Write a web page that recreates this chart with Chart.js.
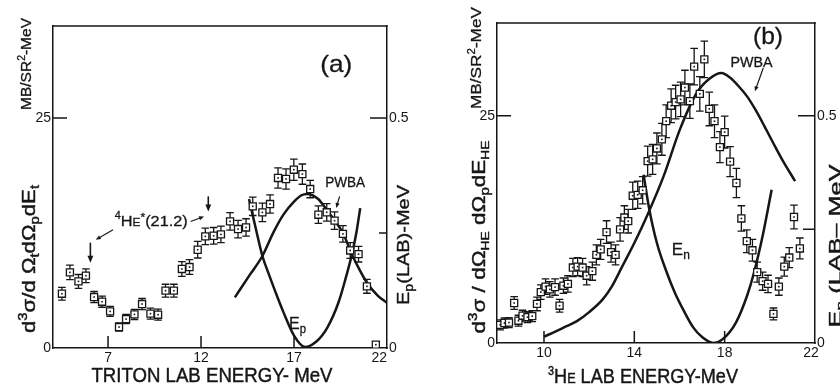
<!DOCTYPE html>
<html><head><meta charset="utf-8">
<script src="https://cdn.jsdelivr.net/npm/chart.js@4.4.1/dist/chart.umd.min.js"></script>
<style>
html,body{margin:0;padding:0;background:#fff;}
#wrap{position:relative;width:840px;height:388px;overflow:hidden;background:#fff;}
.pane{position:absolute;top:0;width:420px;height:388px;}
canvas{display:block;}
</style></head><body>
<div id="wrap">
<div class="pane" style="left:0"><canvas id="ca" width="420" height="388" style="width:420px;height:388px"></canvas></div>
<div class="pane" style="left:420px"><canvas id="cb" width="420" height="388" style="width:420px;height:388px"></canvas></div>
</div>
<script>
// ---------- Panel (a) data ----------
const xTicksA = [7, 12, 17, 22];
const yTicksA = [0, 25];
const y1TicksA = [0, 0.5];
const energyA = [4.52,4.95,5.41,5.81,6.25,6.68,7.11,7.59,7.97,8.42,8.83,9.28,9.69,10.09,10.54,10.97,11.38,11.82,12.23,12.68,13.07,13.56,13.99,14.42,14.78,15.3,15.71,16.14,16.57,16.99,17.45,17.87,18.31,18.76,19.18,19.63,20.02,20.47,20.92,21.4];
const sigmaA = [5.9,8.22,7.24,7.86,5.54,5.03,3.98,2.28,3.15,3.65,4.78,3.73,3.62,6.23,6.23,8.59,8.8,10.68,12.13,12.2,12.35,13.76,12.93,13.1,15.4,14.74,15.65,18.48,18.37,19.38,18.9,17.28,14.49,14.75,13.84,12.4,10.6,10.2,6.7,0.36];
const errA = [0.7,0.78,0.75,0.75,0.6,0.6,0.55,0.45,0.5,0.55,0.6,0.6,0.6,0.7,0.7,0.8,0.8,0.9,0.9,0.9,0.9,0.95,0.95,0.95,1.0,1.0,1.0,1.1,1.1,1.15,1.1,0.95,0.95,0.95,0.95,0.9,0.85,0.85,0.75,0];
const pwbaAx = [13.82,14.63,15.3,15.9,16.43,17.0,17.4,17.69,18.3,18.76,19.18,19.63,20.11,20.5,20.92,21.5,22.0];
const pwbaAy = [5.5,7.97,10.0,12.6,14.5,15.9,16.6,16.75,16.2,15.0,13.9,12.5,10.2,8.6,7.1,5.7,4.9];
const epAx = [14.58,15.0,15.3,15.65,16.0,16.43,17.0,17.6,18.2,18.8,19.4,19.8,20.11,20.35,20.56];
const epAy = [0.324,0.25,0.2,0.16,0.122,0.078,0.027,0.002,0.014,0.045,0.1,0.155,0.203,0.25,0.304];

// ---------- Panel (b) data ----------
const xTicksB = [10, 14, 18, 22];
const yTicksB = [0, 25];
const y1TicksB = [0, 0.5];
const energyB = [8.06,8.25,8.45,8.68,8.87,9.05,9.27,9.48,9.69,9.86,10.07,10.26,10.49,10.69,10.86,11.06,11.28,11.49,11.71,11.89,12.14,12.32,12.51,12.77,12.97,13.17,13.37,13.56,13.73,13.93,14.15,14.37,14.59,14.81,15.0,15.22,15.41,15.63,15.83,16.05,16.24,16.46,16.65,16.9,17.1,17.32,17.55,17.79,18.0,18.24,18.52,18.74,18.98,19.23,19.44,19.68,19.92,20.16,20.4,20.64,20.86,21.07,21.33];
const sigmaB = [2.0,2.2,2.25,4.4,2.45,3.0,2.85,2.95,4.3,5.6,6.2,5.9,6.15,4.1,6.3,6.5,8.3,8.4,8.3,7.4,7.9,9.7,10.3,12.2,10.0,9.7,12.5,13.8,13.4,16.2,16.3,16.8,20.0,20.2,21.4,22.4,24.4,26.1,26.5,26.8,28.1,26.6,30.4,27.4,31.2,25.75,24.4,21.55,23.2,19.95,17.6,13.7,11.2,10.2,7.8,6.8,6.5,3.2,6.2,8.4,9.4,13.86,10.4];
const errB = [0.55,0.55,0.55,0.7,0.6,0.6,0.6,0.6,0.75,0.8,0.85,0.85,0.9,0.7,0.85,0.9,1.0,1.0,1.0,1.0,1.0,1.1,1.1,1.25,1.1,1.1,1.3,1.3,1.3,1.5,1.5,1.5,1.65,1.65,1.7,1.75,1.8,1.85,1.85,1.9,1.9,1.9,2.0,1.9,2.0,1.85,1.8,1.7,1.75,1.65,1.6,1.4,1.25,1.2,1.1,1.0,0.95,0.65,0.95,1.05,1.1,1.3,1.15];
const pwbaBx = [10.0,10.5,11.0,11.46,12.0,12.6,13.0,13.46,14.0,14.6,15.29,16.02,16.76,17.34,17.86,18.23,18.6,19.0,19.4,19.77,20.15,20.54,21.12];
const pwbaBy = [0.7,1.25,1.85,2.4,3.4,4.8,6.2,8.4,11.0,14.2,18.3,23.5,27.5,29.1,29.7,29.2,28.3,27.1,25.5,23.8,22.0,20.2,17.8];
const enBx = [14.41,14.66,15.0,15.4,15.8,16.2,16.6,17.0,17.5,17.9,18.5,19.0,19.3,19.7,20.08];
const enBy = [0.37,0.295,0.22,0.16,0.11,0.07,0.035,0.013,0.0,0.008,0.045,0.105,0.155,0.24,0.337];

// ---------- drawing helpers ----------
const INK = '#161616';
const FONT = '"Liberation Sans", Arial, sans-serif';
const zip = (xs, ys) => xs.map((x, i) => ({x: x, y: ys[i]}));

function rich(ctx, x, y, parts, o) {
  o = o || {};
  let w = 0; const ws = [];
  parts.forEach(p => { ctx.font = p.s + 'px ' + FONT; const m = ctx.measureText(p.t).width; ws.push(m); w += m; });
  const sx = o.len ? o.len / w : 1;
  ctx.save();
  ctx.translate(x, y);
  if (o.rot) ctx.rotate(o.rot);
  ctx.scale(sx, 1);
  let cx = o.align === 'left' ? 0 : (o.align === 'right' ? -w : -w / 2);
  ctx.fillStyle = INK; ctx.strokeStyle = INK; ctx.lineWidth = o.bold === undefined ? 0.3 : o.bold;
  ctx.lineJoin = 'round';
  ctx.textAlign = 'left'; ctx.textBaseline = 'alphabetic';
  parts.forEach((p, i) => {
    ctx.font = p.s + 'px ' + FONT;
    ctx.fillText(p.t, cx, p.dy || 0);
    if (ctx.lineWidth > 0) ctx.strokeText(p.t, cx, p.dy || 0);
    cx += ws[i];
  });
  ctx.restore();
}
function arrow(ctx, x1, y1, x2, y2, h, lw) {
  ctx.save(); ctx.strokeStyle = INK; ctx.fillStyle = INK; ctx.lineWidth = lw || 1.4;
  const a = Math.atan2(y2 - y1, x2 - x1), c = Math.cos(a), s = Math.sin(a);
  ctx.beginPath(); ctx.moveTo(x1, y1); ctx.lineTo(x2 - c * h * 0.7, y2 - s * h * 0.7); ctx.stroke();
  ctx.beginPath(); ctx.moveTo(x2, y2);
  ctx.lineTo(x2 - h * c + h * 0.42 * s, y2 - h * s - h * 0.42 * c);
  ctx.lineTo(x2 - h * c - h * 0.42 * s, y2 - h * s + h * 0.42 * c);
  ctx.closePath(); ctx.fill(); ctx.restore();
}

function figPlugin(spec) {
  return {
    id: 'fig' + spec.id,
    beforeDatasetsDraw(chart) {
      const ctx = chart.ctx, xs = chart.scales.x, ys = chart.scales.y;
      ctx.save(); ctx.strokeStyle = INK; ctx.lineWidth = 1.3;
      ctx.beginPath();
      for (let i = 0; i < spec.ex.length; i++) {
        if (!spec.ee[i]) continue;
        const px = xs.getPixelForValue(spec.ex[i]);
        const t = ys.getPixelForValue(spec.ey[i] + spec.ee[i]);
        const b = ys.getPixelForValue(spec.ey[i] - spec.ee[i]);
        ctx.moveTo(px, t); ctx.lineTo(px, b);
        ctx.moveTo(px - 3.8, t); ctx.lineTo(px + 3.8, t);
        ctx.moveTo(px - 3.8, b); ctx.lineTo(px + 3.8, b);
      }
      ctx.stroke(); ctx.restore();
    },
    afterDatasetsDraw(chart) {
      const ctx = chart.ctx; const meta = chart.getDatasetMeta(0);
      ctx.save(); ctx.fillStyle = INK;
      meta.data.forEach(p => ctx.fillRect(p.x - 0.8, p.y - 0.8, 1.6, 1.6));
      ctx.restore();
    },
    afterDraw(chart) {
      const ctx = chart.ctx, ca = chart.chartArea;
      const xs = chart.scales.x, ys = chart.scales.y, y1 = chart.scales.y1;
      ctx.save();
      ctx.strokeStyle = INK; ctx.lineWidth = 1.5;
      ctx.beginPath();
      ctx.moveTo(ca.left - 0.75, ca.top); ctx.lineTo(ca.right + 0.75, ca.top);
      spec.xInner.forEach(v => { const px = xs.getPixelForValue(v); ctx.moveTo(px, ca.bottom); ctx.lineTo(px, ca.bottom - 12); });
      spec.yInner.forEach(v => { const py = ys.getPixelForValue(v); ctx.moveTo(ca.left, py); ctx.lineTo(ca.left + 14, py); });
      spec.y1Inner.forEach(d => { const py = y1.getPixelForValue(d[0]); ctx.moveTo(ca.right, py); ctx.lineTo(ca.right - d[1], py); });
      ctx.stroke();
      ctx.restore();
      spec.text(ctx, (v) => xs.getPixelForValue(v), (v) => ys.getPixelForValue(v));
    }
  };
}

function axisX(min, max, ticks, h, lab) {
  return { type: 'linear', position: 'bottom', min: min, max: max,
    afterBuildTicks: s => { s.ticks = ticks.map(v => ({value: v})); },
    ticks: { font: {family: FONT, size: 14}, color: INK, padding: 2, maxRotation: 0, autoSkip: false, callback: lab },
    grid: { display: false, drawTicks: false },
    border: { display: true, color: INK, width: 1.5 },
    afterFit: s => { s.height = h; } };
}
function axisY(pos, min, max, ticks, w) {
  return { type: 'linear', position: pos, min: min, max: max,
    afterBuildTicks: s => { s.ticks = ticks.map(v => ({value: v})); },
    ticks: { font: {family: FONT, size: 14}, color: INK, padding: 2, autoSkip: false },
    grid: { display: false, drawTicks: false },
    border: { display: true, color: INK, width: 1.5 },
    afterFit: s => { s.width = w; } };
}
function pointsDs(xs, ys) {
  return { data: zip(xs, ys), showLine: false, pointStyle: 'rect', pointRadius: 5, pointHoverRadius: 5,
    pointBorderWidth: 1.3, pointBorderColor: INK, pointBackgroundColor: '#fff', yAxisID: 'y' };
}
function curveDs(xs, ys, axis) {
  return { data: zip(xs, ys), showLine: true, pointRadius: 0, borderColor: INK, borderWidth: 2.5,
    cubicInterpolationMode: 'monotone', fill: false, yAxisID: axis };
}
function baseOptions(pad, scales) {
  return { responsive: false, animation: false, devicePixelRatio: 1, events: [],
    layout: { padding: pad },
    plugins: { legend: {display: false}, tooltip: {enabled: false}, title: {display: false} },
    scales: scales };
}

const R = -Math.PI / 2;

// ---------- Chart (a) ----------
new Chart(document.getElementById('ca'), {
  type: 'scatter',
  data: { datasets: [ pointsDs(energyA, sigmaA), curveDs(pwbaAx, pwbaAy, 'y'), curveDs(epAx, epAy, 'y1') ] },
  options: baseOptions({top: 26, left: 0, right: 0, bottom: 0}, {
    x: axisX(4.04, 22, xTicksA, 40, v => v === 22 ? '22    ' : String(v)),
    y: axisY('left', 0, 35, yTicksA, 53),
    y1: axisY('right', 0, 0.7, y1TicksA, 33)
  }),
  plugins: [figPlugin({ id: 'a', ex: energyA, ey: sigmaA, ee: errA,
    xInner: [7, 12, 17], yInner: [25], y1Inner: [[0.5, 17], [0.25, 8]],
    text: (ctx, X, Y) => {
      rich(ctx, 35, 259, [{t:'d',s:18},{t:'3',s:12,dy:-8},{t:'σ/d Ω',s:18},{t:'t',s:12,dy:4},{t:'dΩ',s:18},{t:'p',s:12,dy:4},{t:'dE',s:18},{t:'t',s:12,dy:4}], {rot: R, len: 148, bold: 0.45});
      rich(ctx, 31, 64, [{t:'MB/SR',s:15},{t:'2',s:10,dy:-6},{t:'-MeV',s:15}], {rot: R, len: 92});
      rich(ctx, 212, 382, [{t:'TRITON LAB ENERGY- MeV',s:20}], {len: 241, bold: 0.45});
      rich(ctx, 409, 245, [{t:'E',s:17},{t:'p',s:12,dy:4},{t:'(LAB)-MeV',s:17}], {rot: R, len: 120, bold: 0.4});
      rich(ctx, X(19.27), Y(30.03), [{t:'(a)',s:24}], {len: 32, bold: 0.3});
      rich(ctx, X(19.75), Y(17.53), [{t:'PWBA',s:14}], {len: 40});
      arrow(ctx, X(19.45), Y(16.48), X(19.27), Y(15.22), 5, 1.2);
      rich(ctx, X(16.73), Y(2.1), [{t:'E',s:17},{t:'p',s:12,dy:4}], {align: 'left', len: 17});
      rich(ctx, X(7.36), Y(13.3), [{t:'4',s:10,dy:-7},{t:'H',s:15},{t:'E',s:11},{t:'*',s:11,dy:-5},{t:'(21.2)',s:15}], {align: 'left', len: 73});
      arrow(ctx, X(6.05), Y(11.45), X(6.05), Y(9.27), 7, 1.6);
      arrow(ctx, X(12.39), Y(16.48), X(12.39), Y(14.85), 7, 1.6);
      arrow(ctx, X(7.27), Y(12.86), X(6.34), Y(11.77), 5, 1.1);
      arrow(ctx, X(11.44), Y(13.76), X(12.16), Y(14.3), 5, 1.1);
    }
  })]
});

// ---------- Chart (b) ----------
new Chart(document.getElementById('cb'), {
  type: 'scatter',
  data: { datasets: [ pointsDs(energyB, sigmaB), curveDs(pwbaBx, pwbaBy, 'y'), curveDs(enBx, enBy, 'y1') ] },
  options: baseOptions({top: 23, left: 0, right: 0, bottom: 0}, {
    x: axisX(7.92, 22, xTicksB, 45, v => v === 22 ? '22  ' : String(v)),
    y: axisY('left', 0, 35.2, yTicksB, 77),
    y1: axisY('right', 0, 0.704, y1TicksB, 25)
  }),
  plugins: [figPlugin({ id: 'b', ex: energyB, ey: sigmaB, ee: errB,
    xInner: [10, 14, 18], yInner: [25], y1Inner: [[0.5, 17], [0.25, 12]],
    text: (ctx, X, Y) => {
      rich(ctx, 65, 237, [{t:'d',s:18},{t:'3',s:12,dy:-8},{t:'σ / dΩ',s:18},{t:'HE',s:11,dy:4},{t:' dΩ',s:18},{t:'p',s:12,dy:4},{t:'dE',s:18},{t:'HE',s:11,dy:4}], {rot: R, len: 193, bold: 0.45});
      rich(ctx, 61, 58, [{t:'MB/SR',s:15},{t:'2',s:10,dy:-6},{t:'-MeV',s:15}], {rot: R, len: 102});
      rich(ctx, 223, 383, [{t:'3',s:12,dy:-8},{t:'H',s:20},{t:'E',s:14},{t:' LAB ENERGY-MeV',s:20}], {len: 190, bold: 0.45});
      rich(ctx, 421, 246, [{t:'E',s:17},{t:'n',s:12,dy:4},{t:' (LAB– MeV',s:17}], {rot: R, len: 163, bold: 0.4});
      rich(ctx, X(19.92), Y(32.9), [{t:'(b)',s:24}], {len: 30, bold: 0.3});
      rich(ctx, X(19.19), Y(30.4), [{t:'PWBA',s:14}], {len: 42});
      arrow(ctx, X(19.71), Y(30.25), X(19.34), Y(27.68), 5, 1.2);
      rich(ctx, X(15.66), Y(9.71), [{t:'E',s:17},{t:'n',s:12,dy:4}], {align: 'left', len: 18});
    }
  })]
});
</script>
</body></html>
